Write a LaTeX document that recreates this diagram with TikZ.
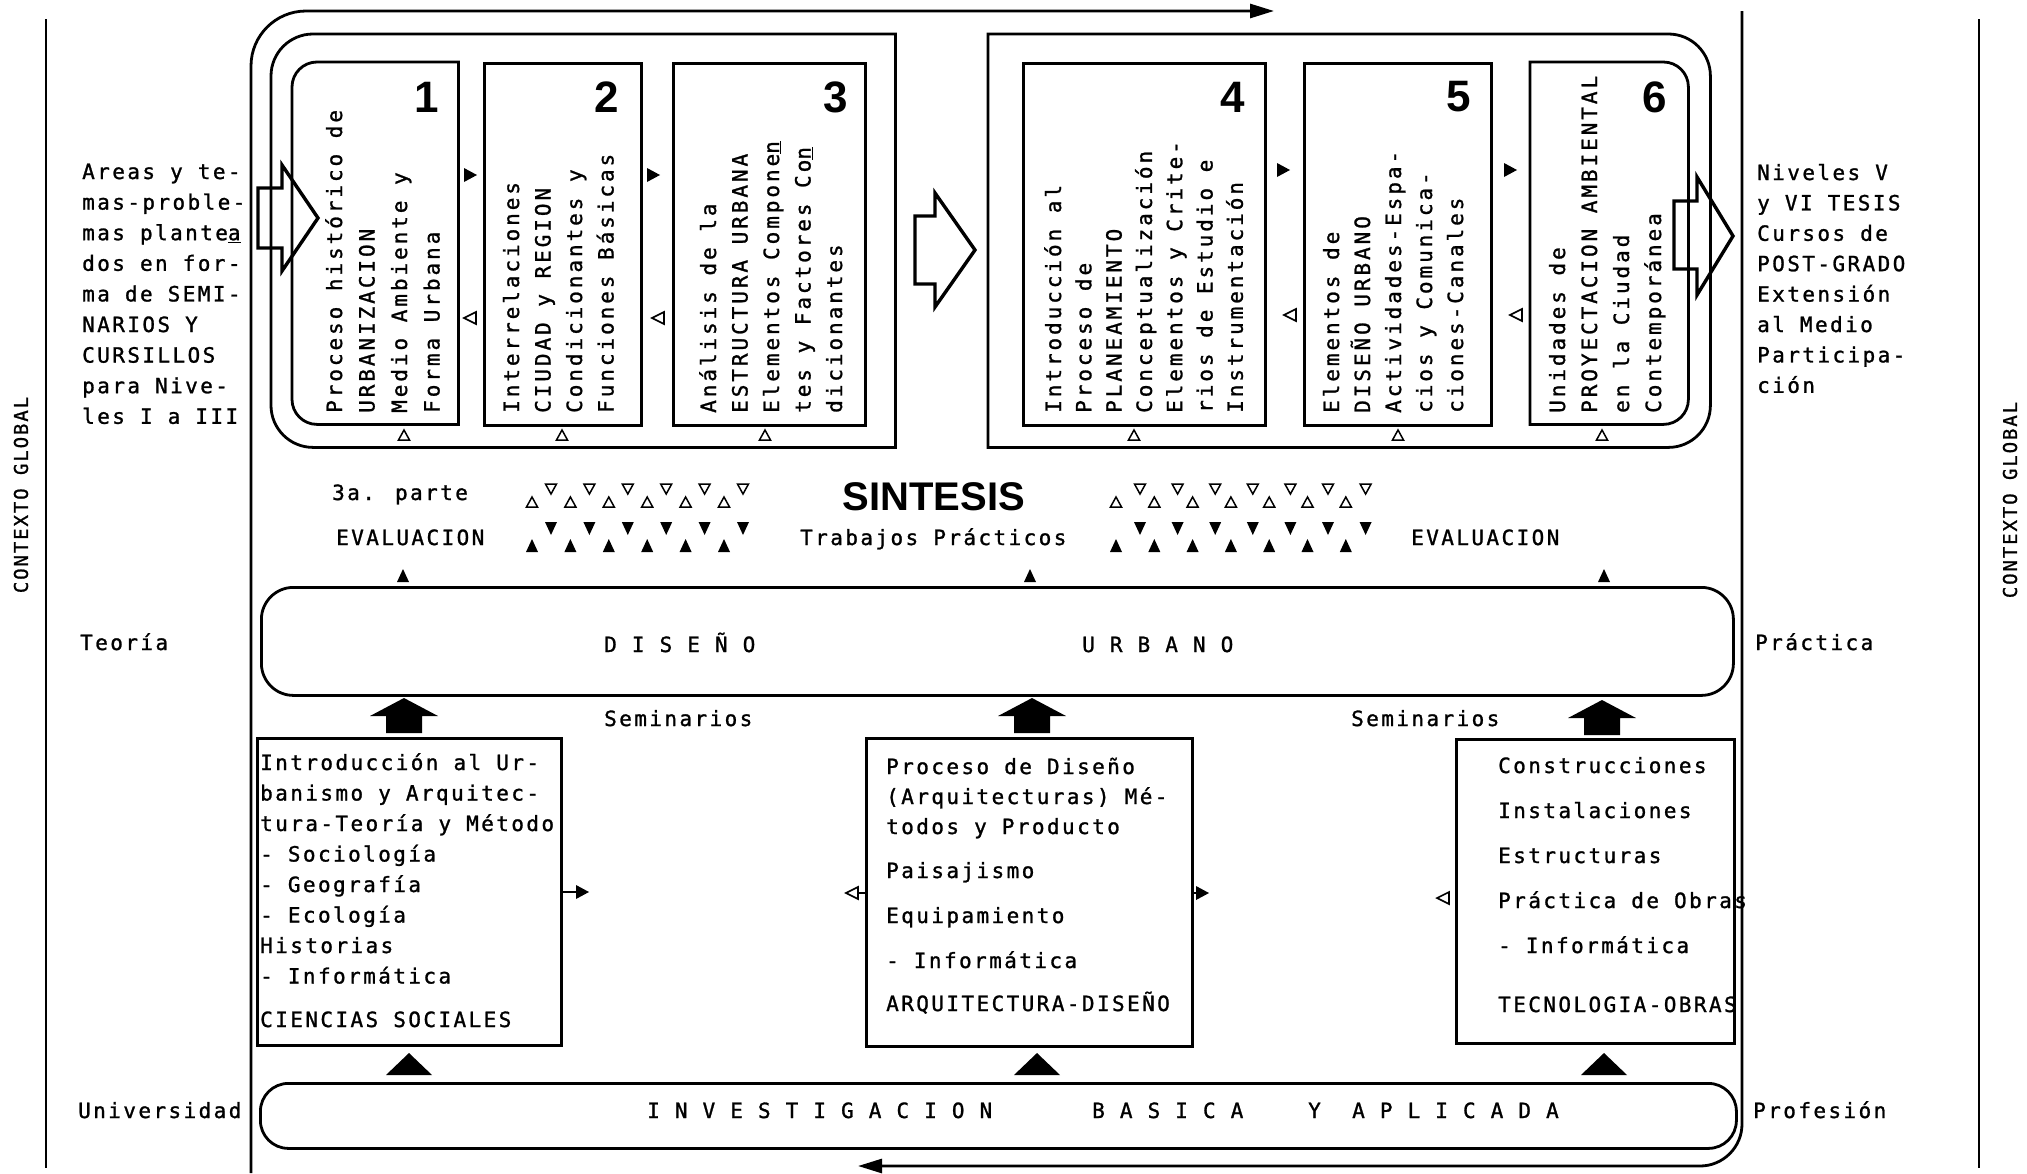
\documentclass[tikz,border=0pt]{standalone}
\usepackage{fontspec}
\usepackage{graphicx}
\usetikzlibrary{arrows.meta}
\newfontfamily\twAfam[LetterSpace=11.5,FakeBold=1.2]{DejaVu Sans Mono}
\newfontfamily\twBfam[LetterSpace=14,FakeBold=1.2]{DejaVu Sans Mono}
\newfontfamily\twCfam[LetterSpace=10,FakeBold=1.0]{DejaVu Sans Mono}
\newfontfamily\digfam{Liberation Sans}
\newcommand\twA{\twAfam\fontsize{21}{24}\selectfont}
\newcommand\twB{\twBfam\fontsize{21}{24}\selectfont}
\newcommand\twC{\twCfam\fontsize{19}{22}\selectfont}
\newcommand\digf{\digfam\bfseries\fontsize{44}{44}\selectfont}
\newcommand\sinf{\digfam\bfseries\fontsize{40}{40}\selectfont}
% small triangle marks
\newcommand\trFR[2]{\fill (#1-6,#2-7) -- (#1+7,#2) -- (#1-6,#2+7) -- cycle;}
\newcommand\trOL[2]{\draw[line width=1.6pt,line join=miter] (#1+6,#2-6) -- (#1-6,#2) -- (#1+6,#2+6) -- cycle;}
\newcommand\trOU[2]{\draw[line width=1.5pt,line join=miter] (#1-5.5,#2+5) -- (#1,#2-5) -- (#1+5.5,#2+5) -- cycle;}
\newcommand\trOD[2]{\draw[line width=1.5pt,line join=miter] (#1-5.5,#2-5) -- (#1,#2+5) -- (#1+5.5,#2-5) -- cycle;}
\newcommand\trFU[2]{\fill (#1-6,#2+6) -- (#1,#2-7) -- (#1+6,#2+6) -- cycle;}
\newcommand\trFD[2]{\fill (#1-6,#2-6) -- (#1,#2+7) -- (#1+6,#2-6) -- cycle;}
\newcommand\houseup[2]{\fill (#1-34,#2+18) -- (#1,#2) -- (#1+34,#2+18) -- (#1+18,#2+18) -- (#1+18,#2+35) -- (#1-18,#2+35) -- (#1-18,#2+18) -- cycle;}
\newcommand\bigup[2]{\fill (#1-23,#2+22) -- (#1,#2) -- (#1+23,#2+22) -- cycle;}
\begin{document}
\begin{tikzpicture}[x=1pt,y=-1pt,
  twh/.style={font=\twA, inner sep=0pt, anchor=base west},
  twr/.style={font=\twB, inner sep=0pt, anchor=base west, rotate=90},
  twv/.style={font=\twC, inner sep=0pt, rotate=90},
  dig/.style={font=\digf, inner sep=0pt},
  ln/.style={line width=2.8pt},
  thinln/.style={line width=2pt},
  boxn/.style={draw, line width=2.8pt, inner sep=0pt, anchor=north west},
  ghost/.style={inner sep=0pt, anchor=north west},
  hollow/.style={line width=3.4pt, line join=miter},
  arr/.style={-{Triangle[length=24pt,width=14pt]}}]
\fill[white] (0,0) rectangle (2027,1173);
\useasboundingbox (0,0) rectangle (2027,1173);

% ---------- outer context lines ----------
\coordinate (bLt) at (46,19); \coordinate (bLb) at (46,1168);
\coordinate (bRt) at (1979,19); \coordinate (bRb) at (1979,1168);
\draw[thinln] (bLt) -- (bLb);
\draw[thinln] (bRt) -- (bRb);
\node[twv] (cgL) at (21,495) {CONTEXTO GLOBAL};
\node[twv] (cgR) at (2010,500) {CONTEXTO GLOBAL};

% ---------- main loops ----------
\coordinate (topS) at (251,1173); \coordinate (topE) at (1274,11);
\draw[ln, rounded corners=55, arr] (topS) |- (topE);
\coordinate (rS) at (1742,11); \coordinate (rE) at (858,1166);
\draw[ln, rounded corners=42, arr] (rS) |- (rE);

% ---------- top group frames ----------
\node[ghost, minimum width=624, minimum height=413] (g1) at (271,34) {};
\draw[ln, rounded corners=42] (g1.north) -- (g1.north west) -- (g1.south west) -- (g1.south) [sharp corners] -- (g1.south east) -- (g1.north east) -- cycle;
\node[ghost, minimum width=722, minimum height=413] (g2) at (988,34) {};
\draw[ln, rounded corners=42] (g2.south) -- (g2.south east) -- (g2.north east) -- (g2.north) [sharp corners] -- (g2.north west) -- (g2.south west) -- cycle;

% ---------- top boxes ----------
\node[ghost, minimum width=166, minimum height=362] (b1) at (292,62) {};
\draw[ln, rounded corners=25] (b1.north) -- (b1.north west) -- (b1.south west) -- (b1.south) [sharp corners] -- (b1.south east) -- (b1.north east) -- cycle;
\node[boxn, minimum width=157, minimum height=362] (b2) at (483,62) {};
\node[boxn, minimum width=192, minimum height=362] (b3) at (672,62) {};
\node[boxn, minimum width=242, minimum height=362] (b4) at (1022,62) {};
\node[boxn, minimum width=187, minimum height=362] (b5) at (1303,62) {};
\node[ghost, minimum width=158, minimum height=362] (b6) at (1530,62) {};
\draw[ln, rounded corners=25] (b6.south) -- (b6.south east) -- (b6.north east) -- (b6.north) [sharp corners] -- (b6.north west) -- (b6.south west) -- cycle;

\node[dig] (n1) at (427,97) {1};
\node[dig] (n2) at (607,97) {2};
\node[dig] (n3) at (836,97) {3};
\node[dig] (n4) at (1233,97) {4};
\node[dig] (n5) at (1459,97) {5};
\node[dig] (n6) at (1655,97) {6};

\foreach \t [count=\k from 0] in {Proceso histórico de, URBANIZACION, Medio Ambiente y, Forma Urbana}
  \node[twr] (t1\k) at (342+32.5*\k,413) {\t};
\foreach \t [count=\k from 0] in {Interrelaciones, CIUDAD y REGION, Condicionantes y, Funciones Básicas}
  \node[twr] (t2\k) at (519+31.5*\k,413) {\t};
\foreach \t [count=\k from 0] in {Análisis de la, ESTRUCTURA URBANA, Elementos Compone\underline{n}, tes y Factores Co\underline{n}, dicionantes}
  \node[twr] (t3\k) at (716+31.5*\k,413) {\t};
\foreach \t [count=\k from 0] in {Introducción al, Proceso de, PLANEAMIENTO, Conceptualización, Elementos y Crite-, rios de Estudio e, Instrumentación}
  \node[twr] (t4\k) at (1061+30.3*\k,413) {\t};
\foreach \t [count=\k from 0] in {Elementos de, DISEÑO URBANO, Actividades-Espa-, cios y Comunica-, ciones-Canales}
  \node[twr] (t5\k) at (1339+31*\k,413) {\t};
\foreach \t [count=\k from 0] in {Unidades de, PROYECTACION AMBIENTAL, en la Ciudad, Contemporánea}
  \node[twr] (t6\k) at (1565+32*\k,413) {\t};

% markers between top boxes
\trFR{470}{175} \trFR{653}{175} \trFR{1283}{170} \trFR{1510}{170}
\trOL{470}{318} \trOL{658}{318} \trOL{1290}{315} \trOL{1516}{315}
\foreach \x in {404,562,765,1134,1398,1602} { \trOU{\x}{435} }

% hollow block arrows
\draw[hollow] (258,188) -- (282,188) -- (282,165) -- (318,218) -- (282,271) -- (282,248) -- (258,248) -- cycle;
\draw[hollow] (915,216) -- (935,216) -- (935,193) -- (975,250) -- (935,307) -- (935,284) -- (915,284) -- cycle;
\draw[hollow] (1674,201) -- (1697,201) -- (1697,177) -- (1733,236) -- (1697,295) -- (1697,269) -- (1674,269) -- cycle;

% side texts
\foreach \t [count=\k from 0] in {Areas y te-, mas-proble-, mas plante\underline{a}, dos en for-, ma de SEMI-, NARIOS Y, CURSILLOS, para Nive-, les I a III}
  \node[twh] (lt\k) at (82,179+30.6*\k) {\t};
\foreach \t [count=\k from 0] in {Niveles V, y VI TESIS, Cursos de, POST-GRADO, Extensión, al Medio, Participa-, ción}
  \node[twh] (rt\k) at (1757,180+30.4*\k) {\t};

% ---------- sintesis band ----------
\node[twh] (parte) at (332,500) {3a. parte};
\node[twh] (evL) at (336,545) {EVALUACION};
\node[font=\sinf, inner sep=0pt, anchor=base] (sint) at (934,510) {SINTESIS};
\node[twh] (tp) at (800,545) {Trabajos Prácticos};
\node[twh] (evR) at (1411,545) {EVALUACION};
\foreach \k in {0,...,5} { \trOU{532+38.4*\k}{502} \trOD{551+38.4*\k}{489} \trFU{532+38.4*\k}{546} \trFD{551+38.4*\k}{528} }
\foreach \k in {0,...,6} { \trOU{1116+38.3*\k}{502} \trOD{1140+37.6*\k}{489} \trFU{1116+38.3*\k}{546} \trFD{1140+37.6*\k}{528} }
\foreach \x in {403,1030,1604} { \fill (\x-6,582) -- (\x,569) -- (\x+6,582) -- cycle; }

% ---------- diseno urbano ----------
\node[boxn, rounded corners=32, minimum width=1472, minimum height=108] (du) at (260,586) {};
\node[twh] (dis) at (604,652) {D I S E Ñ O};
\node[twh] (urb) at (1082,652) {U R B A N O};
\node[twh] (teo) at (80,650) {Teoría};
\node[twh] (pra) at (1755,650) {Práctica};
\node[twh] (semL) at (604,726) {Seminarios};
\node[twh] (semR) at (1351,726) {Seminarios};

% ---------- bottom boxes ----------
\houseup{404}{698} \houseup{1032}{698} \houseup{1602}{700}
\node[boxn, minimum width=304, minimum height=307] (cs) at (256,737) {};
\node[boxn, minimum width=326, minimum height=308] (ad) at (865,737) {};
\node[boxn, minimum width=278, minimum height=304] (to) at (1455,738) {};

\node[twh] (cs0) at (260,770) {Introducción al Ur-};
\node[twh] (cs1) at (260,800.5) {banismo y Arquitec-};
\node[twh] (cs2) at (260,831) {tura-Teoría y Método};
\node[twh] (cs3) at (260,861.5) {- Sociología};
\node[twh] (cs4) at (260,892) {- Geografía};
\node[twh] (cs5) at (260,922.5) {- Ecología};
\node[twh] (cs6) at (260,953) {Historias};
\node[twh] (cs7) at (260,983.5) {- Informática};
\node[twh] (cs8) at (260,1027) {CIENCIAS SOCIALES};

\node[twh] (ad0) at (886,774) {Proceso de Diseño};
\node[twh] (ad1) at (886,804) {(Arquitecturas) Mé-};
\node[twh] (ad2) at (886,834) {todos y Producto};
\node[twh] (ad3) at (886,878) {Paisajismo};
\node[twh] (ad4) at (886,923) {Equipamiento};
\node[twh] (ad5) at (886,968) {- Informática};
\node[twh] (ad6) at (886,1011) {ARQUITECTURA-DISEÑO};

\node[twh] (to0) at (1498,773) {Construcciones};
\node[twh] (to1) at (1498,818) {Instalaciones};
\node[twh] (to2) at (1498,863) {Estructuras};
\node[twh] (to3) at (1498,908) {Práctica de Obras};
\node[twh] (to4) at (1498,953) {- Informática};
\node[twh] (to5) at (1498,1012) {TECNOLOGIA-OBRAS};

% small arrows between bottom boxes
\draw[line width=1.5pt] (cs.east |- 0,892) -- (576,892); \trFR{582}{892}
\trOL{852}{893} \draw[line width=1.5pt] (858,893) -- (ad.west |- 0,893);
\draw[line width=1.5pt] (ad.east |- 0,893) -- (1196,893); \trFR{1202}{893}
\trOL{1443}{898}

\bigup{409}{1053} \bigup{1037}{1053} \bigup{1604}{1053}

% ---------- investigacion ----------
\node[boxn, rounded corners=28, minimum width=1476, minimum height=65] (inv) at (259,1082) {};
\node[twh] (inv1) at (647,1118) {I N V E S T I G A C I O N};
\node[twh] (inv2) at (1092,1118) {B A S I C A};
\node[twh] (inv3) at (1308,1118) {Y};
\node[twh] (inv4) at (1352,1118) {A P L I C A D A};
\node[twh] (uni) at (78,1118) {Universidad};
\node[twh] (prof) at (1753,1118) {Profesión};
\end{tikzpicture}
\end{document}
